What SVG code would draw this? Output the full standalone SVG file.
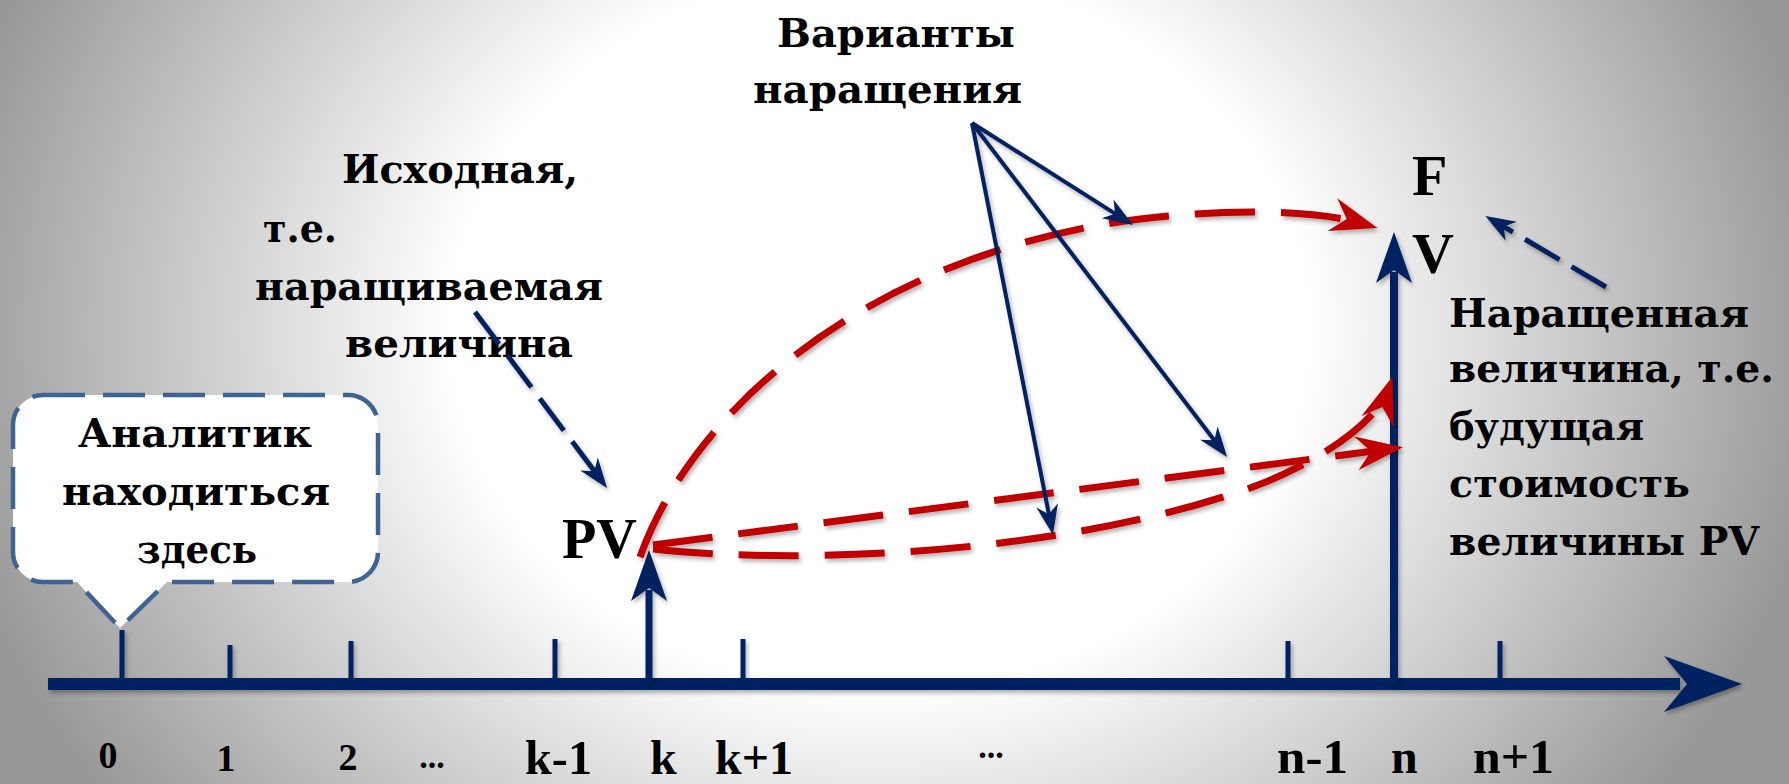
<svg xmlns="http://www.w3.org/2000/svg" width="1789" height="784" viewBox="0 0 1789 784">
<defs>
<radialGradient id="bg" gradientUnits="userSpaceOnUse" cx="880" cy="330" r="950" gradientTransform="translate(880,330) scale(1,0.84) translate(-880,-330)">
<stop offset="0" stop-color="#ffffff"/>
<stop offset="0.45" stop-color="#ffffff"/>
<stop offset="1" stop-color="#989898"/>
</radialGradient>
<filter id="sh" x="-5%" y="-5%" width="110%" height="110%">
<feDropShadow dx="2" dy="3" stdDeviation="2" flood-color="#000" flood-opacity="0.3"/>
</filter>
<marker id="redHead" markerUnits="userSpaceOnUse" orient="auto" refX="0" refY="0" markerWidth="60" markerHeight="40" style="overflow:visible">
<path d="M14,0 L-33,-17 L-18,0 L-33,17 Z" fill="#c00000"/>
</marker>
<marker id="blueHead" markerUnits="userSpaceOnUse" orient="auto" refX="0" refY="0" markerWidth="40" markerHeight="30" style="overflow:visible">
<path d="M10,0 L-20,-11 L-11,0 L-20,11 Z" fill="#002060"/>
</marker>
<style>
.lbl{font-family:"DejaVu Serif","Liberation Serif",serif;font-weight:bold;font-size:40px;fill:#000}
.ax{font-family:"Liberation Serif","DejaVu Serif",serif;font-weight:bold;fill:#000}
.red{fill:none;stroke:#c00000;stroke-width:7;stroke-dasharray:60 26}
.blue{fill:none;stroke:#002060;stroke-width:4}
.bdash{fill:none;stroke:#002060;stroke-width:5;stroke-dasharray:40 14}
.tick{stroke:#002060;stroke-width:5}
</style>
</defs>
<rect x="0" y="0" width="1789" height="784" fill="url(#bg)"/>

<g id="bubble">
<path d="M43,395 H348 A30,30 0 0 1 378,425 V552 A30,30 0 0 1 348,582 H167 L120,628 L77,582 H43 A30,30 0 0 1 13,552 V425 A30,30 0 0 1 43,395 Z" fill="#ffffff" stroke="#3f6392" stroke-width="4.5" stroke-dasharray="42 18"/>
<text class="lbl" x="78" y="447" textLength="234" lengthAdjust="spacingAndGlyphs">Аналитик</text>
<text class="lbl" x="62" y="505" textLength="268" lengthAdjust="spacingAndGlyphs">находиться</text>
<text class="lbl" x="137" y="563" textLength="120" lengthAdjust="spacingAndGlyphs">здесь</text>
</g>

<g id="axis" filter="url(#sh)">
<line x1="48" y1="684" x2="1680" y2="684" stroke="#002060" stroke-width="12"/>
<polygon points="1742,684 1664,656 1687,684 1664,712" fill="#002060"/>
<line class="tick" x1="122" y1="630" x2="122" y2="684"/>
<line class="tick" x1="230" y1="645" x2="230" y2="684"/>
<line class="tick" x1="351" y1="641" x2="351" y2="684"/>
<line class="tick" x1="555" y1="639" x2="555" y2="684"/>
<line class="tick" x1="743" y1="639" x2="743" y2="684"/>
<line class="tick" x1="1288" y1="641" x2="1288" y2="684"/>
<line class="tick" x1="1500" y1="641" x2="1500" y2="684"/>
</g>

<g id="axis-labels">
<text class="ax" x="108" y="768" font-size="38" text-anchor="middle">0</text>
<text class="ax" x="226" y="771" font-size="38" text-anchor="middle">1</text>
<text class="ax" x="348" y="770" font-size="38" text-anchor="middle">2</text>
<text class="ax" x="432" y="768" font-size="34" text-anchor="middle">...</text>
<text class="ax" x="525" y="774" font-size="48" textLength="67" lengthAdjust="spacingAndGlyphs">k-1</text>
<text class="ax" x="650" y="774" font-size="48">k</text>
<text class="ax" x="715" y="774" font-size="48" textLength="78" lengthAdjust="spacingAndGlyphs">k+1</text>
<text class="ax" x="991" y="758" font-size="34" text-anchor="middle">...</text>
<text class="ax" x="1277" y="773" font-size="48" textLength="71" lengthAdjust="spacingAndGlyphs">n-1</text>
<text class="ax" x="1391" y="773" font-size="48">n</text>
<text class="ax" x="1473" y="773" font-size="48" textLength="81" lengthAdjust="spacingAndGlyphs">n+1</text>
</g>

<g id="pv-node">
<g filter="url(#sh)">
<line x1="649" y1="684" x2="649" y2="590" stroke="#002060" stroke-width="7"/>
<polygon points="649,550 667,601 649,588 631,601" fill="#002060"/>
</g>
<text class="ax" x="562" y="558" font-size="58" textLength="75" lengthAdjust="spacingAndGlyphs">PV</text>
</g>

<g id="fv-node">
<g filter="url(#sh)">
<line x1="1394" y1="684" x2="1394" y2="272" stroke="#002060" stroke-width="8"/>
<polygon points="1394,232 1412,283 1394,270 1376,283" fill="#002060"/>
</g>
<text class="ax" x="1412" y="195" font-size="58">F</text>
<text class="ax" x="1412" y="273" font-size="58">V</text>
</g>

<g id="label-variants">
<text class="lbl" x="777" y="47" textLength="238" lengthAdjust="spacingAndGlyphs">Варианты</text>
<text class="lbl" x="753" y="103" textLength="269" lengthAdjust="spacingAndGlyphs">наращения</text>
</g>

<g id="label-initial">
<text class="lbl" x="342" y="183" textLength="236" lengthAdjust="spacingAndGlyphs">Исходная,</text>
<text class="lbl" x="263" y="242" textLength="74" lengthAdjust="spacingAndGlyphs">т.е.</text>
<text class="lbl" x="255" y="300" textLength="348" lengthAdjust="spacingAndGlyphs">наращиваемая</text>
<text class="lbl" x="345" y="357" textLength="228" lengthAdjust="spacingAndGlyphs">величина</text>
</g>

<g id="label-future">
<text class="lbl" x="1449" y="327" textLength="300" lengthAdjust="spacingAndGlyphs">Наращенная</text>
<text class="lbl" x="1449" y="382" textLength="325" lengthAdjust="spacingAndGlyphs">величина, т.е.</text>
<text class="lbl" x="1449" y="440" textLength="195" lengthAdjust="spacingAndGlyphs">будущая</text>
<text class="lbl" x="1449" y="497" textLength="241" lengthAdjust="spacingAndGlyphs">стоимость</text>
<text class="lbl" x="1449" y="555" textLength="310" lengthAdjust="spacingAndGlyphs">величины PV</text>
</g>

<g id="connectors" filter="url(#sh)">
<path class="red" d="M640,557 C690,417 850,270 1100,225 C1180,211 1300,205 1364,224" marker-end="url(#redHead)"/>
<path class="red" d="M653,545 L1389,449" marker-end="url(#redHead)"/>
<path class="red" d="M653,549 C800,565 1060,555 1250,488 C1320,463 1378,420 1388,390" marker-end="url(#redHead)"/>
<path class="blue" d="M972,123 L1124.5,219.6" marker-end="url(#blueHead)"/>
<path class="blue" d="M972,123 L1221,449" marker-end="url(#blueHead)"/>
<path class="blue" d="M972,123 L1051,525" marker-end="url(#blueHead)"/>
<path class="bdash" d="M475,312 L601,480" marker-end="url(#blueHead)"/>
<path class="bdash" d="M1606,287 L1494,221" marker-end="url(#blueHead)"/>
</g>
</svg>
